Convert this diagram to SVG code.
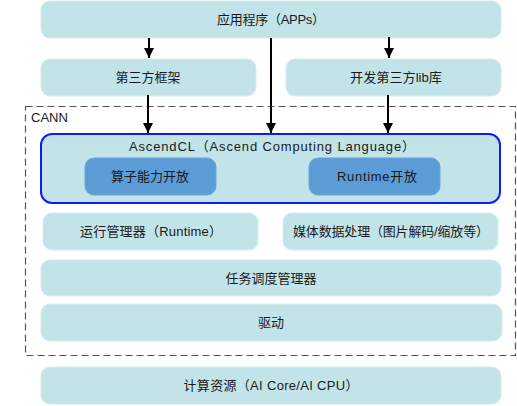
<svg xmlns="http://www.w3.org/2000/svg" width="517" height="406" viewBox="0 0 517 406">
<defs>
<style>
.box{fill:#c2e4e8;stroke:#d4ecef;stroke-width:1}
.inner{fill:#5b9bd6;stroke:#6aa4d9;stroke-width:1}
.t{font-family:"Liberation Sans","Noto Sans CJK SC",sans-serif;font-size:13px;fill:#1a1a1a;text-anchor:middle}
.c{stroke:#000;stroke-width:2;fill:none;marker-end:url(#ah)}
</style>
<marker id="ah" viewBox="0 0 10 10" refX="10" refY="5" markerWidth="5" markerHeight="5" orient="auto" markerUnits="strokeWidth">
<path d="M0,0 L10,5 L0,10 z" fill="#000"/>
</marker>
</defs>
<rect width="517" height="406" fill="#fff"/>
<g id="cann">
<rect x="25.5" y="106.5" width="490" height="249" fill="none" stroke="#555" stroke-width="1.2" stroke-dasharray="7,4"/>
<text x="31" y="122" style="font-family:'Liberation Sans',sans-serif;font-size:13px;fill:#1a1a1a">CANN</text>
</g>
<g id="apps">
<rect class="box" x="41" y="1" width="460" height="37" rx="9"/>
<text class="t" x="271" y="24" textLength="108" lengthAdjust="spacing">应用程序（APPs）</text>
</g>
<g id="framework">
<rect class="box" x="41" y="59" width="215" height="37" rx="9"/>
<text class="t" x="148" y="82">第三方框架</text>
</g>
<g id="lib">
<rect class="box" x="286" y="59" width="215" height="37" rx="9"/>
<text class="t" x="396" y="82" textLength="92" lengthAdjust="spacingAndGlyphs">开发第三方lib库</text>
</g>
<g id="ascendcl">
<rect x="41" y="134" width="459" height="69" rx="11" fill="#c2e4e8" stroke="#0a1ef0" stroke-width="2"/>
<text class="t" x="272" y="151" textLength="286" lengthAdjust="spacing">AscendCL（Ascend Computing Language）</text>
</g>
<g id="op">
<rect class="inner" x="85" y="158" width="131" height="37" rx="9"/>
<text class="t" x="150" y="181">算子能力开放</text>
</g>
<g id="rtopen">
<rect class="inner" x="309" y="158" width="131" height="37" rx="9"/>
<text class="t" x="377" y="181" textLength="80" lengthAdjust="spacing">Runtime开放</text>
</g>
<g id="runtime">
<rect class="box" x="43" y="213" width="215" height="37" rx="9"/>
<text class="t" x="151" y="236" textLength="142" lengthAdjust="spacing">运行管理器（Runtime）</text>
</g>
<g id="media">
<rect class="box" x="283" y="213" width="215" height="37" rx="9"/>
<text class="t" x="391" y="236" textLength="196" lengthAdjust="spacing">媒体数据处理（图片解码/缩放等）</text>
</g>
<g id="task">
<rect class="box" x="41" y="260" width="460" height="36" rx="9"/>
<text class="t" x="271" y="283">任务调度管理器</text>
</g>
<g id="driver">
<rect class="box" x="41" y="304" width="461" height="37" rx="9"/>
<text class="t" x="271" y="327">驱动</text>
</g>
<g id="compute">
<rect class="box" x="41" y="367" width="460" height="37" rx="9"/>
<text class="t" x="271" y="390" textLength="175" lengthAdjust="spacing">计算资源（AI Core/AI CPU）</text>
</g>
<g id="connectors">
<line class="c" x1="149" y1="38" x2="149" y2="58"/>
<line class="c" x1="389" y1="37" x2="389" y2="58"/>
<line class="c" x1="271" y1="38" x2="271" y2="133"/>
<line class="c" x1="148" y1="95" x2="148" y2="133"/>
<line class="c" x1="388" y1="95" x2="388" y2="133"/>
</g>
</svg>
